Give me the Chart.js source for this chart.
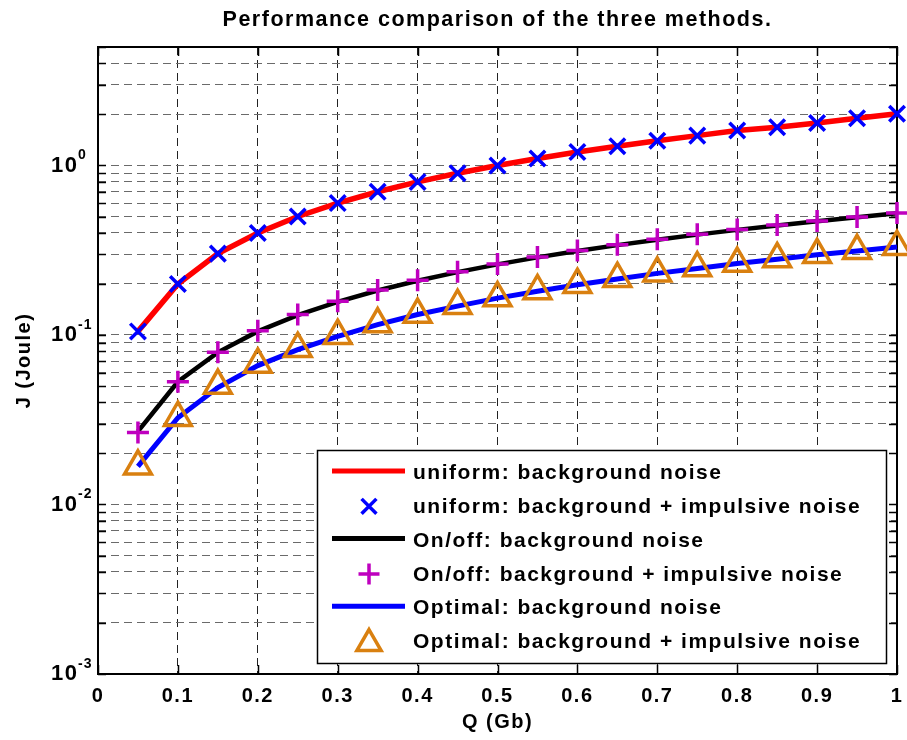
<!DOCTYPE html>
<html>
<head>
<meta charset="utf-8">
<script src="https://cdn.jsdelivr.net/npm/chart.js@4.4.1/dist/chart.umd.min.js"></script>
<style>
html,body{margin:0;padding:0;background:#ffffff;}
canvas{display:block;}
</style>
</head>
<body>
<canvas id="chart" width="907" height="740"></canvas>
<script>
// ---------------- data ----------------
const titleText = 'Performance comparison of the three methods.';
const xAxisTitle = 'Q (Gb)';
const yAxisTitle = 'J (Joule)';

const qValues = [0.05, 0.10, 0.15, 0.20, 0.25, 0.30, 0.35, 0.40, 0.45, 0.50,
                 0.55, 0.60, 0.65, 0.70, 0.75, 0.80, 0.85, 0.90, 0.95, 1.00];

const uniformBackground = [0.105, 0.200, 0.302, 0.400, 0.500, 0.600, 0.700, 0.800, 0.900, 1.00,
                           1.10, 1.20, 1.30, 1.40, 1.50, 1.61, 1.68, 1.78, 1.90, 2.02];
const uniformImpulsive  = [0.105, 0.200, 0.302, 0.400, 0.500, 0.600, 0.700, 0.800, 0.900, 1.00,
                           1.10, 1.20, 1.30, 1.40, 1.50, 1.61, 1.68, 1.78, 1.90, 2.02];

const onoffBackground = [0.027, 0.053, 0.079, 0.105, 0.131, 0.157, 0.183, 0.209, 0.235, 0.261,
                         0.287, 0.313, 0.339, 0.365, 0.391, 0.417, 0.443, 0.469, 0.495, 0.522];
const onoffImpulsive  = [0.0266, 0.053, 0.079, 0.106, 0.132, 0.158, 0.184, 0.210, 0.236, 0.262,
                         0.288, 0.315, 0.341, 0.367, 0.393, 0.419, 0.445, 0.471, 0.497, 0.525];

const optimalBackground = [0.0168, 0.0325, 0.049, 0.066, 0.082, 0.098, 0.115, 0.132, 0.148, 0.165,
                           0.181, 0.198, 0.214, 0.231, 0.247, 0.264, 0.280, 0.297, 0.313, 0.330];
const optimalImpulsive  = [0.0168, 0.0325, 0.0503, 0.067, 0.083, 0.099, 0.116, 0.132, 0.149, 0.165,
                           0.182, 0.198, 0.215, 0.231, 0.248, 0.264, 0.281, 0.297, 0.314, 0.331];

const seriesLabels = [
  'uniform: background noise',
  'uniform: background + impulsive noise',
  'On/off: background noise',
  'On/off: background + impulsive noise',
  'Optimal: background noise',
  'Optimal: background + impulsive noise'
];

const xTickValues = [0, 0.1, 0.2, 0.3, 0.4, 0.5, 0.6, 0.7, 0.8, 0.9, 1];
const xTickLabels = ['0', '0.1', '0.2', '0.3', '0.4', '0.5', '0.6', '0.7', '0.8', '0.9', '1'];

const yGridValues = [0.001, 0.002, 0.003, 0.004, 0.005, 0.006, 0.007, 0.008, 0.009,
                     0.01, 0.02, 0.03, 0.04, 0.05, 0.06, 0.07, 0.08, 0.09,
                     0.1, 0.2, 0.3, 0.4, 0.5, 0.6, 0.7, 0.8, 0.9,
                     1, 2, 3, 4, 5];
const yDecadeValues = [0.001, 0.01, 0.1, 1];
const yDecadeBase = '10';
const yDecadeExponents = ['-3', '-2', '-1', '0'];
const yMin = 0.001;
const yMax = 5;
const xMin = 0;
const xMax = 1;

// ---------------- styling ----------------
const FONT = "'Liberation Sans', Arial, Helvetica, sans-serif";
const RED = '#ff0000', BLUE = '#0000ff', BLACK = '#000000', MAGENTA = '#bf00bf', ORANGE = '#d98010';

function pts(values) { return qValues.map((q, i) => ({x: q, y: values[i]})); }

const datasets = [
  {label: seriesLabels[0], data: pts(uniformBackground), borderColor: RED, backgroundColor: RED,
   borderWidth: 5.5, pointRadius: 0, showLine: true, order: 6, kind: 'line'},
  {label: seriesLabels[1], data: pts(uniformImpulsive), borderColor: BLUE, backgroundColor: 'rgba(0,0,0,0)',
   showLine: false, pointStyle: 'crossRot', pointRadius: 11, pointBorderWidth: 3.5, pointBorderColor: BLUE, order: 5, kind: 'marker'},
  {label: seriesLabels[2], data: pts(onoffBackground), borderColor: BLACK, backgroundColor: BLACK,
   borderWidth: 4.5, pointRadius: 0, showLine: true, order: 4, kind: 'line'},
  {label: seriesLabels[3], data: pts(onoffImpulsive), borderColor: MAGENTA, backgroundColor: 'rgba(0,0,0,0)',
   showLine: false, pointStyle: 'cross', pointRadius: 11, pointBorderWidth: 3.5, pointBorderColor: MAGENTA, order: 3, kind: 'marker'},
  {label: seriesLabels[4], data: pts(optimalBackground), borderColor: BLUE, backgroundColor: BLUE,
   borderWidth: 5, pointRadius: 0, showLine: true, order: 2, kind: 'line'},
  {label: seriesLabels[5], data: pts(optimalImpulsive), borderColor: ORANGE, backgroundColor: 'rgba(0,0,0,0)',
   showLine: false, pointStyle: 'triangle', pointRadius: 15.5, pointBorderWidth: 3.5, pointBorderColor: ORANGE, order: 1, kind: 'marker'}
];
datasets.forEach(d => { d.tension = 0; d.clip = false; d.pointHoverRadius = d.pointRadius; });

// ---------------- plugins ----------------
const spacingPlugin = {
  id: 'spacing',
  beforeDraw(chart) { chart.ctx.letterSpacing = '1.5px'; }
};

const framePlugin = {
  id: 'frame',
  beforeDatasetsDraw(chart) {
    const ctx = chart.ctx;
    const {left, right, top, bottom} = chart.chartArea;
    const xs = chart.scales.x, ys = chart.scales.y;
    ctx.save();
    ctx.setLineDash([]);
    ctx.strokeStyle = '#000';
    ctx.lineWidth = 1.5;
    ctx.beginPath();
    xs.ticks.forEach(t => {
      const px = Math.round(xs.getPixelForValue(t.value)) + 0.5;
      ctx.moveTo(px, bottom); ctx.lineTo(px, bottom - 9);
      ctx.moveTo(px, top); ctx.lineTo(px, top + 9);
    });
    ys.ticks.forEach(t => {
      const py = Math.round(ys.getPixelForValue(t.value)) + 0.5;
      ctx.moveTo(left, py); ctx.lineTo(left + 8, py);
      ctx.moveTo(right, py); ctx.lineTo(right - 8, py);
    });
    ctx.stroke();
    ctx.lineWidth = 2;
    ctx.strokeRect(left, top, right - left, bottom - top);
    ctx.restore();
  }
};

const overlayPlugin = {
  id: 'overlay',
  afterDraw(chart) {
    const ctx = chart.ctx;
    const ca = chart.chartArea;
    const ys = chart.scales.y;
    ctx.save();
    // superscript exponents of y tick labels
    ctx.font = 'bold 14px ' + FONT;
    ctx.letterSpacing = '1px';
    ctx.fillStyle = '#000';
    ctx.textAlign = 'left';
    ctx.textBaseline = 'middle';
    yDecadeValues.forEach((v, i) => {
      const py = ys.getPixelForValue(v);
      ctx.fillText(yDecadeExponents[i], ca.left - 20, py - 10);
    });

    // legend
    const boxW = 569, boxH = 213;
    const bx = Math.round(ca.right - 11.5 - boxW), by = Math.round(ca.bottom - 11 - boxH);
    ctx.fillStyle = '#fff';
    ctx.fillRect(bx, by, boxW, boxH);
    ctx.strokeStyle = '#000';
    ctx.lineWidth = 1.5;
    ctx.setLineDash([]);
    ctx.strokeRect(bx + 0.5, by + 0.5, boxW, boxH);
    ctx.font = 'bold 21px ' + FONT;
    ctx.letterSpacing = '1.5px';
    ctx.textBaseline = 'middle';
    ctx.textAlign = 'left';
    const mx = bx + 52;
    chart.data.datasets.forEach((d, i) => {
      const cy = by + 22.5 + i * 33.8;
      if (d.kind === 'line') {
        ctx.strokeStyle = d.borderColor;
        ctx.lineWidth = 5;
        ctx.beginPath();
        ctx.moveTo(bx + 15, cy - 1.5);
        ctx.lineTo(bx + 88, cy - 1.5);
        ctx.stroke();
      } else {
        const r = d.pointStyle === 'crossRot' ? 10.5 : (d.pointStyle === 'triangle' ? 14 : 10.5);
        ctx.strokeStyle = d.pointBorderColor;
        ctx.lineWidth = 3.5;
        ctx.beginPath();
        if (d.pointStyle === 'crossRot') {
          const o = r * Math.SQRT1_2;
          ctx.moveTo(mx - o, cy - o); ctx.lineTo(mx + o, cy + o);
          ctx.moveTo(mx - o, cy + o); ctx.lineTo(mx + o, cy - o);
        } else if (d.pointStyle === 'cross') {
          ctx.moveTo(mx - r, cy); ctx.lineTo(mx + r, cy);
          ctx.moveTo(mx, cy - r); ctx.lineTo(mx, cy + r);
        } else {
          const h = r * 1.5, w = r * Math.sqrt(3);
          ctx.moveTo(mx, cy - r + 2);
          ctx.lineTo(mx + w / 2, cy + h - r + 2);
          ctx.lineTo(mx - w / 2, cy + h - r + 2);
          ctx.closePath();
        }
        ctx.stroke();
      }
      ctx.fillStyle = '#000';
      ctx.fillText(d.label, bx + 96, cy + 1);
    });
    ctx.restore();
  }
};

// ---------------- chart ----------------
new Chart(document.getElementById('chart'), {
  type: 'scatter',
  data: {datasets},
  plugins: [spacingPlugin, framePlugin, overlayPlugin],
  options: {
    responsive: false,
    animation: false,
    events: [],
    layout: {autoPadding: false, padding: {left: 0, right: 0, top: 0, bottom: 0}},
    plugins: {
      legend: {display: false},
      tooltip: {enabled: false},
      title: {
        display: true,
        fullSize: false,
        text: titleText,
        color: '#000',
        font: {family: FONT, size: 21.5, weight: 'bold', lineHeight: 1.2},
        padding: {top: 7, bottom: 14.2}
      }
    },
    scales: {
      x: {
        type: 'linear',
        min: xMin, max: xMax,
        afterBuildTicks(scale) { scale.ticks = xTickValues.map(v => ({value: v})); },
        afterFit(scale) { scale.height = 66; scale.paddingRight = 10; scale.paddingLeft = 0; },
        ticks: {
          autoSkip: false,
          maxRotation: 0,
          color: '#000',
          padding: 10,
          font: {family: FONT, size: 20, weight: 'bold', lineHeight: 1.2},
          callback: (v, i) => xTickLabels[i]
        },
        grid: {color: '#222', lineWidth: 1, drawTicks: false},
        border: {display: false, dash: [8, 5]},
        title: {
          display: true, text: xAxisTitle, color: '#000',
          font: {family: FONT, size: 20, weight: 'bold', lineHeight: 1.2},
          padding: {top: 0, bottom: 6}
        }
      },
      y: {
        type: 'logarithmic',
        min: yMin, max: yMax,
        afterBuildTicks(scale) { scale.ticks = yGridValues.map(v => ({value: v})); },
        afterFit(scale) { scale.width = 98; scale.paddingTop = 0; scale.paddingBottom = 0; },
        ticks: {
          autoSkip: false,
          color: '#000',
          padding: 19.5,
          font: {family: FONT, size: 22, weight: 'bold', lineHeight: 1.2},
          callback: (v) => {
            const i = yDecadeValues.findIndex(d => Math.abs(Math.log10(d) - Math.log10(v)) < 1e-6);
            return i >= 0 ? yDecadeBase : '';
          }
        },
        grid: {color: '#6a6a6a', lineWidth: 1, drawTicks: false},
        border: {display: false, dash: [8, 5]},
        title: {
          display: true, text: yAxisTitle, color: '#000',
          font: {family: FONT, size: 20, weight: 'bold', lineHeight: 1.2},
          padding: {top: 12, bottom: 0}
        }
      }
    }
  }
});
</script>
</body>
</html>
